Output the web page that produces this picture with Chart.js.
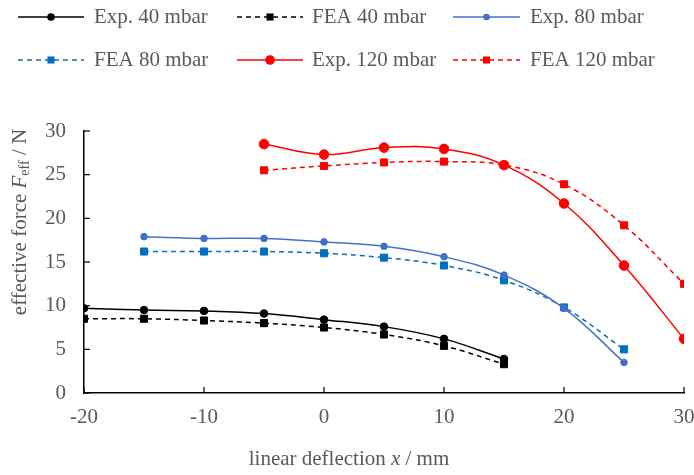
<!DOCTYPE html>
<html><head><meta charset="utf-8">
<script src="https://cdn.jsdelivr.net/npm/chart.js@4/dist/chart.umd.min.js"></script>
<style>html,body{margin:0;padding:0;background:#fff}#wrap{width:694px;height:475px;position:relative}</style>
</head><body><div id="wrap"><canvas id="c" width="694" height="475"></canvas></div>
<script>
const seriesNames = ["Exp. 40 mbar","FEA 40 mbar","Exp. 80 mbar","FEA 80 mbar","Exp. 120 mbar","FEA 120 mbar"];
const x40 = [-20,-15,-10,-5,0,5,10,15];
const exp40 = [9.7,9.5,9.4,9.1,8.4,7.6,6.2,3.9];
const fea40 = [8.5,8.5,8.3,8.0,7.5,6.7,5.4,3.3];
const x80 = [-15,-10,-5,0,5,10,15,20,25];
const exp80 = [17.9,17.7,17.7,17.3,16.8,15.6,13.5,9.7,3.5];
const fea80 = [16.2,16.2,16.2,16.0,15.5,14.6,12.9,9.8,5.0];
const x120 = [-5,0,5,10,15,20,25,30];
const exp120 = [28.5,27.3,28.1,27.95,26.1,21.7,14.6,6.2];
const fea120 = [25.5,26.0,26.4,26.5,26.1,23.9,19.2,12.5];
const xTicks = [-20,-10,0,10,20,30];
const yTicks = [0,5,10,15,20,25,30];

const FONT = "'Liberation Serif','Times New Roman',serif";
const TXT = '#595959';
const pts = (xs, ys) => xs.map((x,i)=>({x:x,y:ys[i]}));

function ds(label, data, color, ptColor, dashed, style, r, bw){
  return {label:label, data:data, borderColor:color, backgroundColor:ptColor, pointBackgroundColor:ptColor,
    pointBorderColor:ptColor, borderWidth:bw, borderDash: dashed?[5,4]:[], pointStyle:style, pointRadius:r,
    pointBorderWidth:1, tension:0.4, fill:false};
}
const datasets = [
  ds(seriesNames[0], pts(x40,exp40), '#000000','#000000', false,'circle',3.8,1.5),
  ds(seriesNames[1], pts(x40,fea40), '#000000','#000000', true,'rect',5,1.5),
  ds(seriesNames[2], pts(x80,exp80), '#4472C4','#3F6FC6', false,'circle',3.3,1.5),
  ds(seriesNames[3], pts(x80,fea80), '#0070C0','#0070C0', true,'rect',5,1.5),
  ds(seriesNames[4], pts(x120,exp120), '#FF0000','#FF0000', false,'circle',4.8,1.5),
  ds(seriesNames[5], pts(x120,fea120), '#FF0000','#FF0000', true,'rect',5,1.5)
];

function drawMarker(ctx, style, x, y, r, color){
  ctx.save(); ctx.fillStyle=color; ctx.beginPath();
  if(style==='circle'){ ctx.arc(x,y,r,0,Math.PI*2); }
  else { const s=Math.SQRT1_2*r; ctx.rect(x-s,y-s,2*s,2*s); }
  ctx.fill(); ctx.restore();
}

const custom = {
  id:'custom',
  afterDraw(chart){
    const ctx=chart.ctx, xs=chart.scales.x, ys=chart.scales.y, a=chart.chartArea;
    ctx.save();
    ctx.strokeStyle='#000'; ctx.lineWidth=1.2;
    xTicks.forEach(v=>{const p=xs.getPixelForValue(v); ctx.beginPath(); ctx.moveTo(p,a.bottom); ctx.lineTo(p,a.bottom-6); ctx.stroke();});
    yTicks.forEach(v=>{const p=ys.getPixelForValue(v); ctx.beginPath(); ctx.moveTo(a.left,p); ctx.lineTo(a.left+6,p); ctx.stroke();});
    const rows=[17,60], cols=[[18,84,94],[237,303,312],[453,520,530]];
    chart.data.datasets.forEach((d,i)=>{
      const row=Math.floor(i/3), col=i%3, y=rows[row], c=cols[col];
      ctx.save(); ctx.strokeStyle=d.borderColor; ctx.lineWidth=d.borderWidth; ctx.setLineDash(d.borderDash);
      ctx.beginPath(); ctx.moveTo(c[0],y); ctx.lineTo(c[1],y); ctx.stroke(); ctx.restore();
      drawMarker(ctx,d.pointStyle,(c[0]+c[1])/2,y,d.pointRadius,d.pointBackgroundColor);
      ctx.fillStyle=TXT; ctx.font='21px '+FONT; ctx.textBaseline='middle'; ctx.textAlign='left';
      ctx.fillText(d.label,c[2],y);
    });
    ctx.fillStyle=TXT; ctx.textBaseline='middle';
    const parts=[['linear deflection ',false],['x',true],[' / mm',false]];
    let w=0; parts.forEach(p=>{ctx.font=(p[1]?'italic ':'')+'21px '+FONT; w+=ctx.measureText(p[0]).width;});
    let x0=349 - w/2, yT=459;
    parts.forEach(p=>{ctx.font=(p[1]?'italic ':'')+'21px '+FONT; ctx.textAlign='left'; ctx.fillText(p[0],x0,yT); x0+=ctx.measureText(p[0]).width;});
    ctx.save(); ctx.translate(20,222); ctx.rotate(-Math.PI/2);
    const yp=[['effective force ',false,21,0],['F',true,21,0],['eff',false,14,5],[' / N',false,21,0]];
    let wy=0; yp.forEach(p=>{ctx.font=(p[1]?'italic ':'')+p[2]+'px '+FONT; wy+=ctx.measureText(p[0]).width;});
    let xx=-wy/2;
    yp.forEach(p=>{ctx.font=(p[1]?'italic ':'')+p[2]+'px '+FONT; ctx.textAlign='left'; ctx.fillText(p[0],xx,p[3]); xx+=ctx.measureText(p[0]).width;});
    ctx.restore();
    ctx.restore();
  }
};

new Chart(document.getElementById('c'),{
  type:'line',
  data:{datasets:datasets},
  options:{
    responsive:false, animation:false, maintainAspectRatio:false,
    layout:{padding:{top:131,left:0,right:10,bottom:0}},
    plugins:{legend:{display:false},tooltip:{enabled:false}},
    scales:{
      x:{type:'linear',min:-20,max:30,
        afterBuildTicks(s){s.ticks=xTicks.map(v=>({value:v}));},
        afterFit(s){s.height=82; s.paddingLeft=0; s.paddingRight=0;},
        grid:{display:false,drawTicks:false},
        border:{display:true,color:'#000',width:1.5},
        ticks:{padding:12,color:TXT,font:{family:FONT,size:21},maxRotation:0}},
      y:{type:'linear',min:0,max:30,
        afterBuildTicks(s){s.ticks=yTicks.map(v=>({value:v}));},
        afterFit(s){s.width=84; s.paddingTop=0; s.paddingBottom=0;},
        grid:{display:false,drawTicks:false},
        border:{display:true,color:'#000',width:1.5},
        ticks:{padding:18,color:TXT,font:{family:FONT,size:21}}}
    }
  },
  plugins:[custom]
});
</script></body></html>
